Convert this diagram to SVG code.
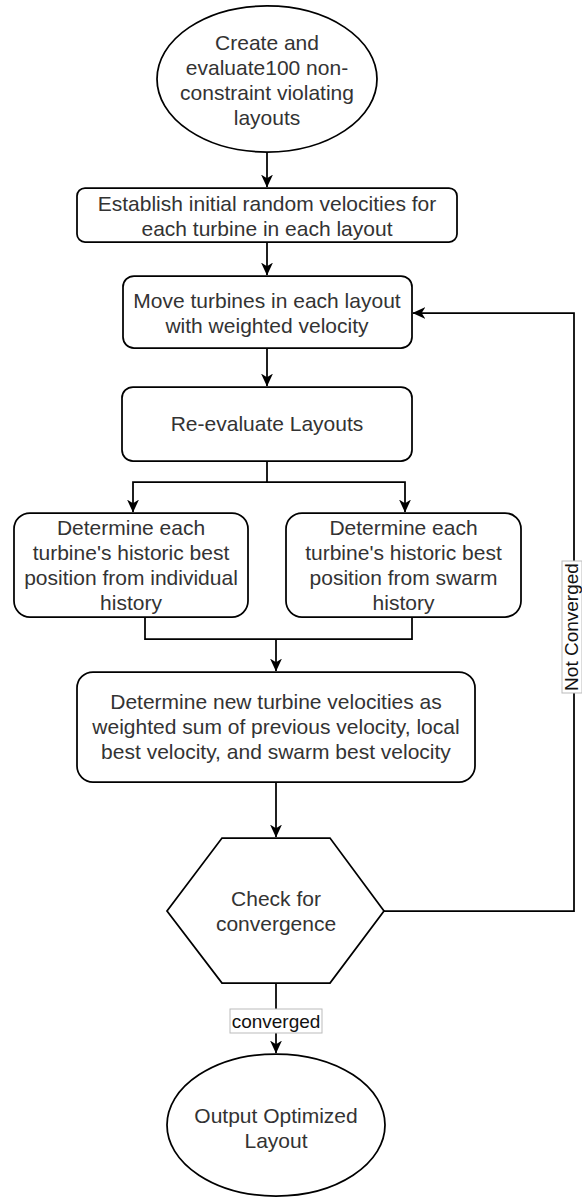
<svg xmlns="http://www.w3.org/2000/svg" width="582" height="1197" viewBox="0 0 582 1197">
<style>
.n{fill:#fff;stroke:#000;stroke-width:1.75}
.t{font-family:"Liberation Sans",Arial,sans-serif;font-size:21px;fill:#333;text-anchor:middle}
.l{font-family:"Liberation Sans",Arial,sans-serif;font-size:19px;fill:#111;text-anchor:middle}
.e{fill:none;stroke:#000;stroke-width:1.75}
.lb{fill:#fff;stroke:#bbb;stroke-width:1}
</style>
<defs>
<marker id="arr" markerUnits="userSpaceOnUse" viewBox="0 0 12 12" refX="11.5" refY="6" markerWidth="13" markerHeight="13" orient="auto">
<path d="M0,0.5 L12,6 L0,11.5 L3.5,6 Z" fill="#000"/>
</marker>
</defs>
<rect width="582" height="1197" fill="#fff"/>
<g id="connectors">
<path class="e" d="M267,152 V187" marker-end="url(#arr)"/>
<path class="e" d="M267,242 V275" marker-end="url(#arr)"/>
<path class="e" d="M267,348 V386" marker-end="url(#arr)"/>
<path class="e" d="M267,461 V482 H133 V512" marker-end="url(#arr)"/>
<path class="e" d="M267,482 H405 V512" marker-end="url(#arr)"/>
<path class="e" d="M145,617 V639 H412 V617"/>
<path class="e" d="M276,639 V671" marker-end="url(#arr)"/>
<path class="e" d="M276,782 V837" marker-end="url(#arr)"/>
<path class="e" d="M276,983 V1053" marker-end="url(#arr)"/>
<path class="e" d="M384,911 H574 V313 H413" marker-end="url(#arr)"/>
<rect class="lb" x="562" y="561" width="20" height="132"/>
<text class="l" x="578" y="627" transform="rotate(-90 578 627)">Not Converged</text>
<rect class="lb" x="230" y="1009" width="92" height="24"/>
<text class="l" x="276" y="1028">converged</text>
</g>
<g id="start">
<ellipse class="n" cx="267" cy="79" rx="110" ry="73"/>
<text class="t" x="267" y="50">Create and</text>
<text class="t" x="267" y="75">evaluate100 non-</text>
<text class="t" x="267" y="100">constraint violating</text>
<text class="t" x="267" y="125">layouts</text>
</g>
<g id="init-velocities">
<rect class="n" x="77" y="188" width="380" height="54" rx="8"/>
<text class="t" x="267" y="211">Establish initial random velocities for</text>
<text class="t" x="267" y="236">each turbine in each layout</text>
</g>
<g id="move">
<rect class="n" x="123" y="276" width="289" height="72" rx="11"/>
<text class="t" x="267" y="308">Move turbines in each layout</text>
<text class="t" x="267" y="333">with weighted velocity</text>
</g>
<g id="reevaluate">
<rect class="n" x="122" y="387" width="290" height="74" rx="11"/>
<text class="t" x="267" y="431">Re-evaluate Layouts</text>
</g>
<g id="individual-best">
<rect class="n" x="14" y="513" width="234" height="104" rx="16"/>
<text class="t" x="131" y="535">Determine each</text>
<text class="t" x="131" y="560">turbine's historic best</text>
<text class="t" x="131" y="585">position from individual</text>
<text class="t" x="131" y="610">history</text>
</g>
<g id="swarm-best">
<rect class="n" x="286" y="513" width="235" height="104" rx="16"/>
<text class="t" x="403.5" y="535">Determine each</text>
<text class="t" x="403.5" y="560">turbine's historic best</text>
<text class="t" x="403.5" y="585">position from swarm</text>
<text class="t" x="403.5" y="610">history</text>
</g>
<g id="new-velocities">
<rect class="n" x="77" y="672" width="398" height="110" rx="16"/>
<text class="t" x="276" y="709">Determine new turbine velocities as</text>
<text class="t" x="276" y="734">weighted sum of previous velocity, local</text>
<text class="t" x="276" y="759">best velocity, and swarm best velocity</text>
</g>
<g id="check">
<polygon class="n" points="222,838 330,838 384,911 330,983 222,983 167,911"/>
<text class="t" x="276" y="906">Check for</text>
<text class="t" x="276" y="931">convergence</text>
</g>
<g id="end">
<ellipse class="n" cx="276" cy="1125" rx="109" ry="71"/>
<text class="t" x="276" y="1123">Output Optimized</text>
<text class="t" x="276" y="1148">Layout</text>
</g>
</svg>
